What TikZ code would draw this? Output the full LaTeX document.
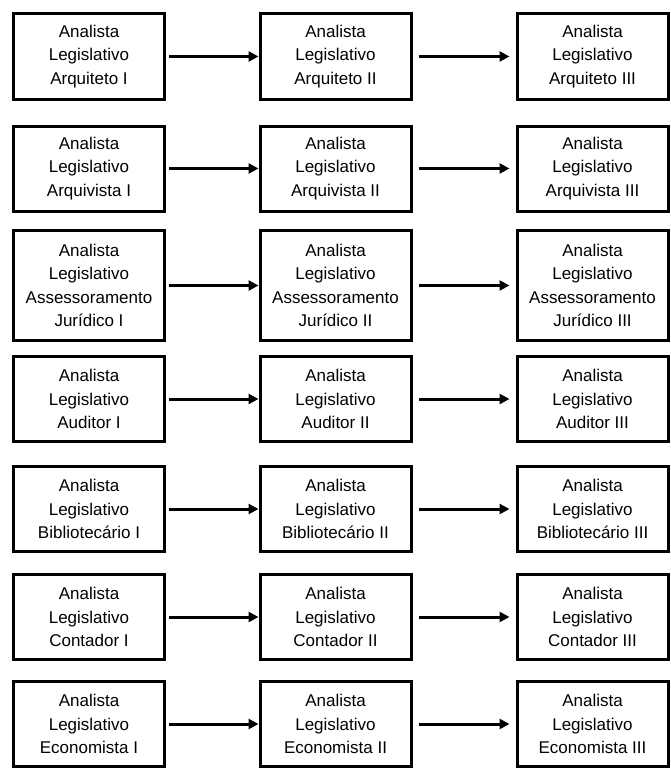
\documentclass[tikz,border=0pt]{standalone}
\usepackage{fontspec}
\setmainfont{Liberation Sans}
\usetikzlibrary{arrows.meta}

\tikzset{
  cargo/.style={draw=black, line width=3pt, fill=white, align=center,
    minimum width=151pt, minimum height=85pt, inner sep=0pt,
    font=\fontsize{17}{23.5}\selectfont},
  tall/.style={minimum height=110pt},
  seta/.style={line width=3pt, -{Triangle[length=10pt,width=10pt]}},
}

\begin{document}
\begin{tikzpicture}[x=1pt,y=-1pt]
  \useasboundingbox (0,0) rectangle (670,768);

  % column centres
  \def\ca{89}
  \def\cb{335.5}
  \def\cc{592.5}

  % row: name, y-centre, label stem, extra style
  \foreach \r/\y/\lab/\sty in {
      1/56.5/Arquiteto/{},
      2/168.5/Arquivista/{},
      3/285.5/Assessoramento\\Jurídico/tall,
      4/399/Auditor/{},
      5/509/Bibliotecário/{},
      6/617/Contador/{},
      7/724/Economista/{}} {
    \node[cargo,\sty] (a\r) at (\ca,\y) {Analista\\Legislativo\\\lab\ I};
    \node[cargo,\sty] (b\r) at (\cb,\y) {Analista\\Legislativo\\\lab\ II};
    \node[cargo,\sty] (c\r) at (\cc,\y) {Analista\\Legislativo\\\lab\ III};
    \draw[seta, shorten <=3pt] (a\r) -- (b\r);
    \draw[seta, shorten <=6pt, shorten >=6pt] (b\r) -- (c\r);
  }
\end{tikzpicture}
\end{document}
